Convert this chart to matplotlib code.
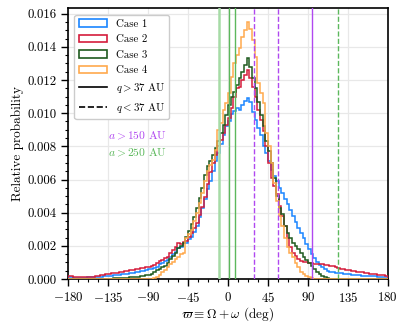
import numpy as np
import matplotlib
matplotlib.use("Agg")
from matplotlib import pyplot as plt
from matplotlib.patches import Patch
from matplotlib.lines import Line2D
from matplotlib.ticker import MultipleLocator, AutoMinorLocator, FormatStrFormatter

plt.rcParams['font.family'] = 'serif'
plt.rcParams['font.serif'] = ['cmr10', 'DejaVu Serif']
plt.rcParams['mathtext.fontset'] = 'cm'
plt.rcParams['axes.formatter.use_mathtext'] = True

# histogram bins (deg), 3 deg wide
edges = np.arange(-180, 181, 3)

# relative probability per bin, in units of 1e-3
case1 = [0.10, 0.10, 0.09, 0.09, 0.09, 0.09, 0.09, 0.10, 0.10, 0.11,
         0.12, 0.13, 0.15, 0.16, 0.18, 0.19, 0.21, 0.22, 0.24, 0.26,
         0.28, 0.30, 0.33, 0.35, 0.38, 0.40, 0.43, 0.46, 0.50, 0.54,
         0.58, 0.62, 0.66, 0.75, 0.88, 0.95, 1.08, 1.15, 1.35, 1.50,
         1.65, 1.85, 1.95, 2.15, 2.20, 2.40, 2.55, 2.85, 3.20, 3.75,
         4.30, 4.85, 5.40, 5.90, 6.50, 7.10, 7.60, 8.15, 8.70, 9.20,
         9.55, 9.95, 10.15, 10.30, 10.20, 10.50, 10.75, 10.90, 10.65, 10.10,
         9.60, 9.10, 8.70, 8.00, 7.60, 7.10, 6.60, 6.20, 5.90, 5.50,
         5.20, 4.85, 4.50, 4.15, 3.80, 3.45, 3.10, 2.80, 2.45, 2.10,
         1.80, 1.50, 1.25, 1.05, 0.85, 0.70, 0.58, 0.50, 0.45, 0.41,
         0.38, 0.36, 0.34, 0.32, 0.30, 0.28, 0.27, 0.25, 0.24, 0.22,
         0.21, 0.20, 0.19, 0.18, 0.17, 0.16, 0.15, 0.14, 0.13, 0.12]
case2 = [0.18, 0.16, 0.14, 0.12, 0.11, 0.10, 0.10, 0.10, 0.11, 0.13,
         0.16, 0.19, 0.22, 0.25, 0.28, 0.31, 0.34, 0.36, 0.38, 0.41,
         0.43, 0.46, 0.49, 0.52, 0.55, 0.58, 0.61, 0.64, 0.67, 0.70,
         0.75, 0.80, 0.86, 0.95, 1.10, 1.15, 1.25, 1.35, 1.55, 1.75,
         1.95, 2.15, 2.10, 2.25, 2.30, 2.55, 2.75, 3.05, 3.35, 3.85,
         4.35, 4.95, 5.75, 6.45, 7.00, 7.50, 8.00, 8.40, 8.80, 9.30,
         9.70, 10.30, 11.00, 11.50, 11.60, 12.00, 12.30, 12.60, 12.10, 11.60,
         11.00, 10.20, 9.60, 8.90, 8.00, 7.00, 6.10, 5.60, 5.10, 4.40,
         3.80, 3.20, 2.50, 1.95, 1.60, 1.40, 1.20, 1.10, 1.05, 1.00,
         0.97, 0.95, 0.93, 0.92, 0.90, 0.88, 0.86, 0.84, 0.81, 0.78,
         0.70, 0.66, 0.62, 0.59, 0.56, 0.53, 0.50, 0.47, 0.44, 0.42,
         0.40, 0.38, 0.35, 0.33, 0.31, 0.29, 0.27, 0.25, 0.23, 0.21]
case3 = [0.00, 0.00, 0.00, 0.00, 0.00, 0.00, 0.00, 0.00, 0.00, 0.00,
         0.00, 0.01, 0.01, 0.02, 0.02, 0.03, 0.03, 0.04, 0.05, 0.06,
         0.07, 0.08, 0.09, 0.10, 0.11, 0.12, 0.14, 0.16, 0.19, 0.22,
         0.26, 0.32, 0.40, 0.52, 0.58, 0.70, 0.80, 0.95, 1.20, 1.40,
         1.60, 1.85, 2.00, 2.20, 2.55, 2.90, 3.30, 3.75, 4.30, 4.90,
         5.50, 6.30, 6.80, 7.10, 7.50, 7.90, 8.30, 8.80, 9.30, 9.90,
         10.50, 11.00, 11.30, 11.70, 12.10, 12.50, 12.90, 13.30, 12.80, 12.10,
         11.50, 10.70, 9.90, 9.20, 8.30, 7.70, 7.00, 6.10, 5.00, 4.30,
         3.90, 3.20, 2.80, 2.50, 2.20, 2.00, 1.80, 1.55, 1.35, 1.15,
         0.95, 0.78, 0.60, 0.45, 0.32, 0.20, 0.10, 0.04, 0.01, 0.00,
         0.00, 0.00, 0.00, 0.00, 0.00, 0.00, 0.00, 0.00, 0.00, 0.00,
         0.00, 0.00, 0.00, 0.00, 0.00, 0.00, 0.00, 0.00, 0.00, 0.00]
case4 = [0.00, 0.00, 0.00, 0.00, 0.00, 0.00, 0.00, 0.00, 0.00, 0.00,
         0.00, 0.00, 0.00, 0.00, 0.00, 0.00, 0.00, 0.00, 0.00, 0.00,
         0.00, 0.00, 0.00, 0.00, 0.00, 0.00, 0.00, 0.00, 0.00, 0.01,
         0.00, 0.02, 0.05, 0.12, 0.25, 0.45, 0.55, 0.75, 0.90, 1.05,
         1.20, 1.35, 1.50, 1.60, 2.50, 2.70, 2.95, 3.50, 4.00, 4.60,
         5.20, 5.90, 6.50, 6.90, 7.20, 7.80, 9.00, 9.40, 10.20, 10.60,
         11.20, 12.20, 13.00, 13.50, 13.90, 14.60, 15.00, 15.50, 15.10, 14.40,
         13.40, 11.80, 11.20, 10.60, 8.80, 8.00, 7.00, 5.80, 4.70, 3.80,
         3.20, 2.50, 1.95, 1.60, 1.30, 0.95, 0.70, 0.45, 0.30, 0.18,
         0.10, 0.04, 0.01, 0.00, 0.00, 0.00, 0.00, 0.00, 0.00, 0.00,
         0.00, 0.00, 0.00, 0.00, 0.00, 0.00, 0.00, 0.00, 0.00, 0.00,
         0.00, 0.00, 0.00, 0.00, 0.00, 0.00, 0.00, 0.00, 0.00, 0.00]

cases = [case1, case2, case3, case4]
labels = ["Case 1", "Case 2", "Case 3", "Case 4"]
colors = ["#1a85ff", "#d41c3c", "#1e5a1e", "#ffa94d"]

# reference lines (deg)
purple = "#b048f0"
green = "#5cb85c"
green_solid = [1, 8]
green_faint = [-10]
green_dashed = [124]
purple_solid = [95]
purple_dashed = [29, 56]

fig = plt.figure(figsize=(4.07, 3.26), dpi=100)
ax = fig.add_axes([0.167, 0.144, 0.786, 0.831])

ax.grid(True, color="#e8e8e8", linewidth=0.9, zorder=0)
ax.set_axisbelow(True)

for vals, c in zip(cases, colors):
    ax.stairs(np.array(vals) * 1e-3, edges, color=c, linewidth=1.1, zorder=3)

for x in green_faint:
    ax.axvline(x, color="#a6dba6", linewidth=1.8, zorder=4)
for x in green_solid:
    ax.axvline(x, color=green, linewidth=1.0, zorder=4)
for x in green_dashed:
    ax.axvline(x, color=green, linewidth=1.0, linestyle="--", zorder=4)
for x in purple_solid:
    ax.axvline(x, color=purple, linewidth=1.0, zorder=4)
for x in purple_dashed:
    ax.axvline(x, color=purple, linewidth=1.0, linestyle="--", zorder=4)

ax.text(-135, 0.0084, r"$a > 150$ AU", color=purple, fontsize=8.3)
ax.text(-135, 0.0074, r"$a > 250$ AU", color=green, fontsize=8.3)

ax.set_xlim(-180, 180)
ax.set_ylim(0, 0.01633)
ax.xaxis.set_major_locator(MultipleLocator(45))
ax.xaxis.set_minor_locator(AutoMinorLocator())
ax.yaxis.set_major_locator(MultipleLocator(0.002))
ax.yaxis.set_minor_locator(AutoMinorLocator())
ax.yaxis.set_major_formatter(FormatStrFormatter("%.3f"))
ax.tick_params(which="major", length=5, width=1.0, labelsize=9.3)
ax.tick_params(which="minor", length=2.5, width=0.8)
for s in ax.spines.values():
    s.set_linewidth(1.2)

ax.set_xlabel(r"$\varpi \equiv \Omega + \omega$ (deg)", fontsize=9.5, labelpad=0.5)
ax.set_ylabel("Relative probability", fontsize=9.5, labelpad=2)

handles = [Patch(facecolor="white", edgecolor=c, linewidth=1.2, label=l)
           for c, l in zip(colors, labels)]
handles.append(Line2D([], [], color="black", linewidth=1.2, label=r"$q > 37$ AU"))
handles.append(Line2D([], [], color="black", linewidth=1.2, linestyle="--", label=r"$q < 37$ AU"))
ax.legend(handles=handles, loc="upper left", fontsize=7.8, framealpha=1,
          edgecolor="#cccccc", handlelength=2.6, labelspacing=0.55,
          borderaxespad=0.6)

fig.savefig("out.png", dpi=100)
